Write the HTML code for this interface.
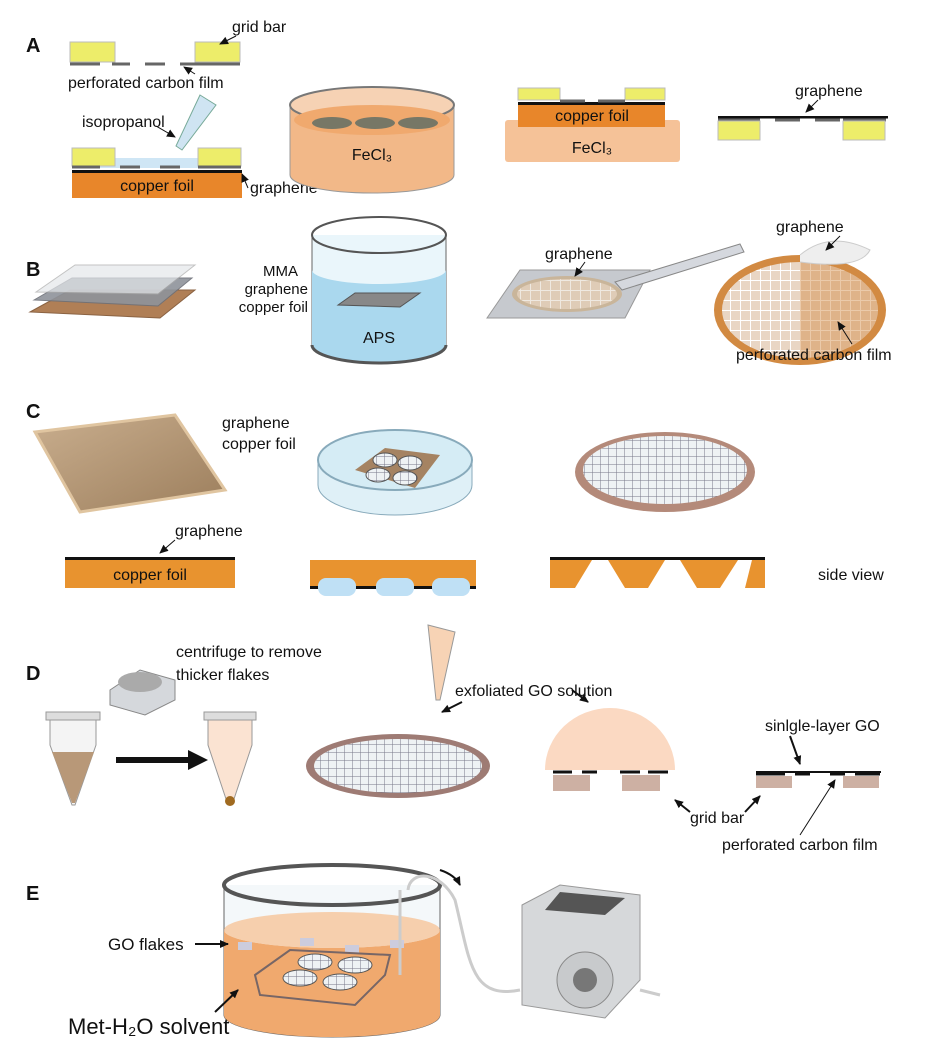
<!DOCTYPE html>
<html><head><meta charset="utf-8"><style>
html,body{margin:0;padding:0;background:#fff}
svg{display:block}
text{font-family:"Liberation Sans",Arial,sans-serif;fill:#111}
</style></head><body>
<svg width="938" height="1056" viewBox="0 0 938 1056" xmlns="http://www.w3.org/2000/svg">
<defs>
<marker id="ar" markerWidth="10" markerHeight="10" refX="8" refY="5" orient="auto" markerUnits="userSpaceOnUse"><path d="M0,1 L9,5 L0,9 z" fill="#111"/></marker>
<pattern id="mesh" width="8" height="8" patternUnits="userSpaceOnUse"><rect width="8" height="8" fill="#eef2f4"/><path d="M0,0H8M0,0V8" stroke="#778" stroke-width="1"/></pattern>
<pattern id="mesh2" width="10" height="10" patternUnits="userSpaceOnUse"><rect width="10" height="10" fill="#e9d6c4"/><path d="M0,0H10M0,0V10" stroke="#fff" stroke-width="2"/></pattern>
<linearGradient id="tan" x1="0" y1="0" x2="1" y2="1"><stop offset="0" stop-color="#c9ae8e"/><stop offset="1" stop-color="#9c7e5c"/></linearGradient>
</defs>
<g font-weight="bold" font-size="20"><text x="26" y="52">A</text><text x="26" y="276">B</text><text x="26" y="418">C</text><text x="26" y="680">D</text><text x="26" y="900">E</text></g>

<rect x="70" y="42" width="45" height="20" fill="#eded6a" stroke="#bbb"/>
<rect x="195" y="42" width="45" height="20" fill="#eded6a" stroke="#bbb"/>
<g stroke="#666" stroke-width="3"><line x1="70" y1="64" x2="100" y2="64"/><line x1="112" y1="64" x2="130" y2="64"/><line x1="145" y1="64" x2="165" y2="64"/><line x1="180" y1="64" x2="240" y2="64"/></g>
<text x="232" y="32" font-size="16">grid bar</text>
<line x1="236" y1="36" x2="220" y2="44" stroke="#111" marker-end="url(#ar)"/>
<text x="68" y="88" font-size="16">perforated carbon film</text>
<line x1="195" y1="74" x2="184" y2="67" stroke="#111" marker-end="url(#ar)"/>
<text x="82" y="127" font-size="16">isopropanol</text>
<line x1="156" y1="126" x2="175" y2="137" stroke="#111" marker-end="url(#ar)"/>
<polygon points="200,95 216,105 182,150 176,146" fill="#cfe4f2" stroke="#7a9"/>
<rect x="100" y="158" width="120" height="10" fill="#cfe6f5"/>
<rect x="72" y="148" width="43" height="18" fill="#eded6a" stroke="#bbb"/>
<rect x="198" y="148" width="43" height="18" fill="#eded6a" stroke="#bbb"/>
<g stroke="#666" stroke-width="3"><line x1="72" y1="167" x2="100" y2="167"/><line x1="120" y1="167" x2="140" y2="167"/><line x1="160" y1="167" x2="180" y2="167"/><line x1="198" y1="167" x2="241" y2="167"/></g>
<rect x="72" y="170" width="170" height="3" fill="#111"/>
<rect x="72" y="173" width="170" height="25" fill="#e8862a"/>
<text x="157" y="191" font-size="16" text-anchor="middle">copper foil</text>
<text x="250" y="193" font-size="16">graphene</text>
<line x1="248" y1="188" x2="242" y2="174" stroke="#111" marker-end="url(#ar)"/>
<path d="M290,105 V175 A82,18 0 0 0 454,175 V105" fill="#f2b888" stroke="#999"/>
<ellipse cx="372" cy="105" rx="82" ry="18" fill="#f6d2b4" stroke="#777" stroke-width="2"/>
<ellipse cx="372" cy="120" rx="78" ry="15" fill="#f0a96e"/>
<g fill="#776" ><ellipse cx="332" cy="123" rx="20" ry="6"/><ellipse cx="375" cy="123" rx="20" ry="6"/><ellipse cx="418" cy="123" rx="20" ry="6"/></g>
<text x="372" y="160" font-size="16" text-anchor="middle" fill="#fff">FeCl₃</text>
<rect x="505" y="120" width="175" height="42" fill="#f5c298" rx="3"/>
<text x="592" y="153" font-size="16" text-anchor="middle">FeCl₃</text>
<rect x="518" y="105" width="147" height="22" fill="#e8862a"/>
<rect x="518" y="102" width="147" height="3" fill="#111"/>
<text x="592" y="121" font-size="16" text-anchor="middle">copper foil</text>
<rect x="518" y="88" width="42" height="12" fill="#eded6a" stroke="#bbb"/>
<rect x="625" y="88" width="40" height="12" fill="#eded6a" stroke="#bbb"/>
<g stroke="#666" stroke-width="3"><line x1="560" y1="101" x2="585" y2="101"/><line x1="598" y1="101" x2="625" y2="101"/></g>
<rect x="718" y="116" width="170" height="2.5" fill="#111"/>
<g stroke="#666" stroke-width="3"><line x1="718" y1="120" x2="760" y2="120"/><line x1="775" y1="120" x2="800" y2="120"/><line x1="815" y1="120" x2="840" y2="120"/><line x1="843" y1="120" x2="886" y2="120"/></g>
<rect x="718" y="121" width="42" height="19" fill="#eded6a" stroke="#bbb"/>
<rect x="843" y="121" width="42" height="19" fill="#eded6a" stroke="#bbb"/>
<text x="795" y="96" font-size="16">graphene</text>
<line x1="818" y1="100" x2="806" y2="112" stroke="#111" marker-end="url(#ar)"/>

<polygon points="30,312 70,290 195,290 160,318" fill="#b07f56" stroke="#8a6242"/>
<polygon points="34,300 72,278 192,278 158,306" fill="#8e939b" stroke="#6d7078" opacity="0.9"/>
<polygon points="36,292 75,265 195,265 158,294" fill="#e4e7ea" stroke="#aaa" opacity="0.7"/>
<g font-size="15" text-anchor="end"><text x="298" y="276">MMA</text><text x="308" y="294">graphene</text><text x="308" y="312">copper foil</text></g>
<path d="M312,235 V345 A67,18 0 0 0 446,345 V235" fill="#eaf6fb" stroke="#666"/>
<path d="M312,270 V345 A67,18 0 0 0 446,345 V270 A67,14 0 0 1 312,270" fill="#aad8ee"/>
<ellipse cx="379" cy="235" rx="67" ry="18" fill="none" stroke="#555" stroke-width="2"/>
<path d="M312,345 A67,18 0 0 0 446,345" fill="none" stroke="#555" stroke-width="3"/>
<polygon points="338,305 355,293 420,293 400,307" fill="#888" stroke="#555"/>
<text x="379" y="343" font-size="16" text-anchor="middle">APS</text>
<polygon points="487,318 520,270 650,270 625,318" fill="#c6c9ce" stroke="#999"/>
<ellipse cx="567" cy="294" rx="55" ry="18" fill="#c9b59a"/>
<ellipse cx="567" cy="294" rx="50" ry="15" fill="url(#mesh2)" opacity="0.7"/>
<polygon points="615,282 740,244 744,252 622,290" fill="#d5d8de" stroke="#888"/>
<text x="545" y="259" font-size="16">graphene</text>
<line x1="585" y1="262" x2="575" y2="276" stroke="#111" marker-end="url(#ar)"/>
<ellipse cx="800" cy="310" rx="86" ry="55" fill="#d28a42"/>
<ellipse cx="800" cy="310" rx="78" ry="48" fill="url(#mesh2)"/>
<path d="M800,262 A78,48 0 0 1 800,358 Z" fill="#d28a42" opacity="0.45"/>
<path d="M800,255 Q830,230 870,250 Q860,270 800,262" fill="#eee" stroke="#ccc"/>
<text x="776" y="232" font-size="16">graphene</text>
<line x1="840" y1="236" x2="826" y2="250" stroke="#111" marker-end="url(#ar)"/>
<text x="736" y="360" font-size="16">perforated carbon film</text>
<line x1="852" y1="344" x2="838" y2="322" stroke="#111" marker-end="url(#ar)"/>

<polygon points="35,432 175,415 225,490 80,512" fill="url(#tan)" stroke="#e0c5a0" stroke-width="3"/>
<text x="222" y="428" font-size="16">graphene</text>
<text x="222" y="449" font-size="16">copper foil</text>
<path d="M318,460 V485 A77,30 0 0 0 472,485 V460" fill="#dff0f7" stroke="#8ab"/>
<ellipse cx="395" cy="460" rx="77" ry="30" fill="#d5ecf5" stroke="#8ab" stroke-width="2"/>
<polygon points="355,470 385,448 440,455 415,488" fill="#a58362"/>
<g fill="url(#mesh)" stroke="#555"><ellipse cx="385" cy="460" rx="12" ry="7"/><ellipse cx="410" cy="463" rx="12" ry="7"/><ellipse cx="378" cy="475" rx="12" ry="7"/><ellipse cx="405" cy="478" rx="12" ry="7"/></g>
<ellipse cx="665" cy="472" rx="90" ry="40" fill="#b48a7a"/>
<ellipse cx="665" cy="470" rx="82" ry="34" fill="url(#mesh)"/>
<text x="175" y="536" font-size="16">graphene</text>
<line x1="175" y1="540" x2="160" y2="553" stroke="#111" marker-end="url(#ar)"/>
<rect x="65" y="557" width="170" height="3" fill="#111"/>
<rect x="65" y="560" width="170" height="28" fill="#e8932f"/>
<text x="150" y="580" font-size="16" text-anchor="middle">copper foil</text>
<rect x="310" y="560" width="166" height="26" fill="#e8932f"/>
<rect x="310" y="586" width="166" height="3" fill="#111"/>
<g fill="#bfe0f5"><rect x="318" y="578" width="38" height="18" rx="8"/><rect x="376" y="578" width="38" height="18" rx="8"/><rect x="432" y="578" width="38" height="18" rx="8"/></g>
<rect x="550" y="557" width="215" height="3" fill="#111"/>
<g fill="#e8932f"><polygon points="550,560 592,560 575,588 550,588"/><polygon points="608,560 665,560 648,588 625,588"/><polygon points="680,560 738,560 720,588 697,588"/><polygon points="752,560 765,560 765,588 745,588"/></g>
<text x="818" y="580" font-size="16">side view</text>

<text x="176" y="657" font-size="16">centrifuge to remove</text>
<text x="176" y="680" font-size="16">thicker flakes</text>
<path d="M50,718 H96 V745 L75,805 H72 L50,745 Z" fill="#f4f4f4" stroke="#999"/>
<path d="M52,752 H94 L75,803 H72 Z" fill="#b89878"/>
<rect x="46" y="712" width="54" height="8" fill="#ddd" stroke="#999"/>
<polygon points="110,690 140,670 175,680 175,700 145,715 110,705" fill="#d5d8dc" stroke="#888"/>
<ellipse cx="140" cy="682" rx="22" ry="10" fill="#aaa"/>
<line x1="116" y1="760" x2="190" y2="760" stroke="#111" stroke-width="6"/>
<polygon points="188,750 208,760 188,770" fill="#111"/>
<path d="M208,718 H252 V745 L232,805 H228 L208,745 Z" fill="#fbe3d2" stroke="#999"/>
<circle cx="230" cy="801" r="5" fill="#a06a20"/>
<rect x="204" y="712" width="52" height="8" fill="#ddd" stroke="#999"/>
<polygon points="428,625 455,632 440,700 436,700" fill="#f7d3b5" stroke="#999"/>
<text x="455" y="696" font-size="16">exfoliated GO solution</text>
<line x1="462" y1="702" x2="442" y2="712" stroke="#111" stroke-width="2" marker-end="url(#ar)"/>
<ellipse cx="398" cy="766" rx="92" ry="32" fill="#9e7b74"/>
<ellipse cx="398" cy="766" rx="84" ry="27" fill="url(#mesh)"/>
<path d="M545,770 A65,62 0 0 1 675,770 Z" fill="#fbd9c2"/>
<g stroke="#111" stroke-width="3"><line x1="553" y1="772" x2="572" y2="772"/><line x1="582" y1="772" x2="597" y2="772"/><line x1="620" y1="772" x2="640" y2="772"/><line x1="648" y1="772" x2="668" y2="772"/></g>
<rect x="553" y="775" width="37" height="16" fill="#cdb0a3"/><rect x="622" y="775" width="38" height="16" fill="#cdb0a3"/>
<line x1="572" y1="690" x2="588" y2="702" stroke="#111" stroke-width="2" marker-end="url(#ar)"/>
<rect x="756" y="771" width="125" height="2" fill="#111"/>
<g stroke="#111" stroke-width="3"><line x1="756" y1="774" x2="785" y2="774"/><line x1="795" y1="774" x2="810" y2="774"/><line x1="830" y1="774" x2="845" y2="774"/><line x1="855" y1="774" x2="880" y2="774"/></g>
<rect x="756" y="776" width="36" height="12" fill="#cdb0a3"/><rect x="843" y="776" width="36" height="12" fill="#cdb0a3"/>
<text x="765" y="731" font-size="16">sinlgle-layer GO</text>
<line x1="790" y1="736" x2="800" y2="764" stroke="#111" stroke-width="2" marker-end="url(#ar)"/>
<text x="690" y="823" font-size="16">grid bar</text>
<line x1="690" y1="812" x2="675" y2="800" stroke="#111" stroke-width="2" marker-end="url(#ar)"/>
<line x1="745" y1="812" x2="760" y2="796" stroke="#111" stroke-width="2" marker-end="url(#ar)"/>
<text x="722" y="850" font-size="16">perforated carbon film</text>
<line x1="800" y1="835" x2="835" y2="780" stroke="#111" marker-end="url(#ar)"/>

<path d="M224,885 V1015 A108,22 0 0 0 440,1015 V885" fill="#f4f8fa" stroke="#666"/>
<path d="M224,930 V1015 A108,22 0 0 0 440,1015 V930 A108,18 0 0 1 224,930" fill="#f0a96e"/>
<ellipse cx="332" cy="930" rx="108" ry="18" fill="#f6c49a" opacity="0.8"/>
<ellipse cx="332" cy="885" rx="108" ry="20" fill="none" stroke="#555" stroke-width="4"/>
<g fill="#ccd"><rect x="238" y="942" width="14" height="8"/><rect x="300" y="938" width="14" height="8"/><rect x="345" y="945" width="14" height="8"/><rect x="390" y="940" width="14" height="8"/></g>
<polygon points="255,975 290,950 390,955 385,975 355,1005 260,995" fill="none" stroke="#766" stroke-width="2"/>
<g fill="url(#mesh)" stroke="#555"><ellipse cx="315" cy="962" rx="17" ry="8"/><ellipse cx="355" cy="965" rx="17" ry="8"/><ellipse cx="300" cy="978" rx="17" ry="8"/><ellipse cx="340" cy="982" rx="17" ry="8"/></g>
<path d="M400,890 V975 M408,890 C410,870 440,870 455,900 C470,960 470,1000 520,990" fill="none" stroke="#ccc" stroke-width="3"/>
<path d="M440,870 Q455,875 460,885" fill="none" stroke="#111" stroke-width="2" marker-end="url(#ar)"/>
<text x="108" y="950" font-size="17">GO flakes</text>
<line x1="195" y1="944" x2="228" y2="944" stroke="#111" stroke-width="2" marker-end="url(#ar)"/>
<text x="68" y="1034" font-size="22">Met-H₂O solvent</text>
<line x1="215" y1="1012" x2="238" y2="990" stroke="#111" stroke-width="2" marker-end="url(#ar)"/>
<polygon points="522,905 560,885 640,895 640,980 605,1018 522,1005" fill="#d6d8da" stroke="#999"/>
<polygon points="560,892 625,898 605,915 545,910" fill="#555"/>
<circle cx="585" cy="980" r="28" fill="#c8cacc" stroke="#888"/>
<circle cx="585" cy="980" r="12" fill="#777"/>
<path d="M640,990 L660,995" stroke="#ccc" stroke-width="3"/>
</svg>
</body></html>
